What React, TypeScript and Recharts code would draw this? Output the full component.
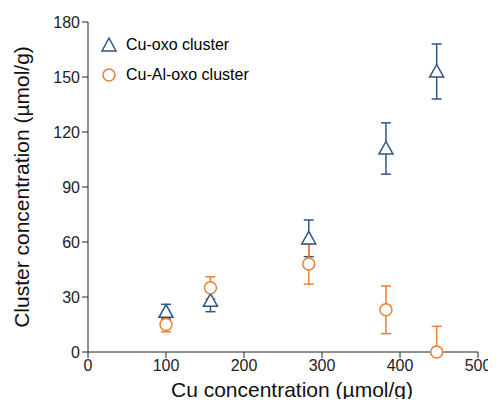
import React from 'react';
import { ScatterChart, Scatter, XAxis, YAxis, ErrorBar } from 'recharts';

const cuX = [100, 157, 283, 382, 447];
const cuOxo = [22, 28, 62, 111, 153];
const cuOxoErr = [4, 6, 10, 14, 15];
const cuAlOxo = [15, 35, 48, 23, 0];
const cuAlOxoErrLow = [4, 6, 11, 13, 0];
const cuAlOxoErrHigh = [4, 6, 11, 13, 14];
const xTicks = [0, 100, 200, 300, 400, 500];
const yTicks = [0, 30, 60, 90, 120, 150, 180];

const BLUE = '#2F5683';
const ORANGE = '#ED7D31';
const FONT = 'Liberation Sans, Arial, sans-serif';

const oxoData = cuX.map((x, i) => ({ x, y: cuOxo[i], err: cuOxoErr[i] }));
const alData = cuX.map((x, i) => ({ x, y: cuAlOxo[i], err: [cuAlOxoErrLow[i], cuAlOxoErrHigh[i]] }));

const Tri = (p: any) => {
  const { cx, cy } = p;
  const r = 7;
  return (
    <polygon
      points={`${cx},${cy - r} ${cx - r},${cy + r * 0.8} ${cx + r},${cy + r * 0.8}`}
      fill="white"
      stroke={BLUE}
      strokeWidth={1.5}
    />
  );
};

const Circ = (p: any) => (
  <circle cx={p.cx} cy={p.cy} r={6} fill="white" stroke={ORANGE} strokeWidth={1.5} />
);

export default function App() {
  const tick = { fontSize: 16, fill: '#222', fontFamily: FONT };
  return (
    <div style={{ margin: -8, background: 'white', position: 'relative', width: 496, height: 407 }}>
      <ScatterChart width={496} height={407} margin={{ top: 22, right: 18, bottom: 0, left: 0 }}>
        <XAxis
          type="number"
          dataKey="x"
          domain={[0, 500]}
          ticks={xTicks}
          tick={tick}
          stroke="#222"
          height={55}
        />
        <YAxis
          type="number"
          dataKey="y"
          domain={[0, 180]}
          ticks={yTicks}
          tick={tick}
          stroke="#222"
          width={88}
        />
        <Scatter name="Cu-oxo cluster" data={oxoData} shape={<Tri />} isAnimationActive={false}>
          <ErrorBar dataKey="err" direction="y" stroke={BLUE} width={5} strokeWidth={1.5} />
        </Scatter>
        <Scatter name="Cu-Al-oxo cluster" data={alData} shape={<Circ />} isAnimationActive={false}>
          <ErrorBar dataKey="err" direction="y" stroke={ORANGE} width={5} strokeWidth={1.5} />
        </Scatter>
      </ScatterChart>
      <div style={{ position: 'absolute', left: 98, top: 30, fontFamily: FONT, fontSize: 16 }}>
        <div style={{ display: 'flex', alignItems: 'center', height: 30 }}>
          <svg width={22} height={18}>
            <polygon points="11,2 4,15 18,15" fill="white" stroke={BLUE} strokeWidth={1.5} />
          </svg>
          <span style={{ marginLeft: 6 }}>Cu-oxo cluster</span>
        </div>
        <div style={{ display: 'flex', alignItems: 'center', height: 30 }}>
          <svg width={22} height={18}>
            <circle cx={11} cy={9} r={6} fill="white" stroke={ORANGE} strokeWidth={1.5} />
          </svg>
          <span style={{ marginLeft: 6 }}>Cu-Al-oxo cluster</span>
        </div>
      </div>
      <div style={{ position: 'absolute', left: 0, right: 0, top: 378, paddingLeft: 88, textAlign: 'center', fontFamily: FONT, fontSize: 21, color: '#111' }}>
        Cu concentration (µmol/g)
      </div>
      <div style={{ position: 'absolute', left: 22, top: 187, width: 0, height: 0 }}>
        <div style={{ position: 'absolute', transform: 'translate(-50%, -50%) rotate(-90deg)', whiteSpace: 'nowrap', fontFamily: FONT, fontSize: 21, color: '#111' }}>
          Cluster concentration (µmol/g)
        </div>
      </div>
    </div>
  );
}
